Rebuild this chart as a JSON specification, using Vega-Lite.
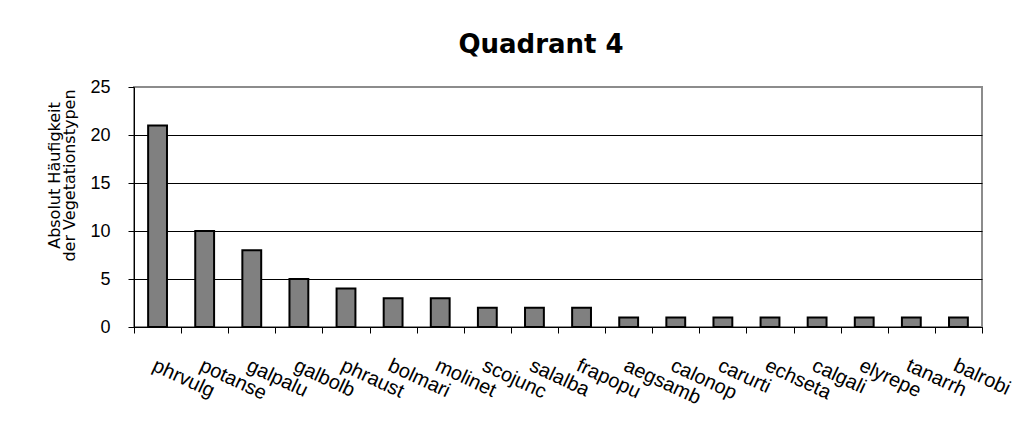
{
  "$schema": "https://vega.github.io/schema/vega-lite/v6.json",
  "width": 848,
  "height": 240,
  "autosize": {"type": "none"},
  "padding": {"left": 134, "top": 87, "right": 40, "bottom": 114},
  "background": "white",
  "title": {
    "text": "Quadrant 4",
    "font": "DejaVu Sans",
    "fontSize": 26,
    "fontWeight": "bold",
    "color": "black",
    "anchor": "middle",
    "frame": "group",
    "baseline": "alphabetic",
    "offset": 33,
    "dy": 34,
    "dx": -17
  },
  "data": {
    "values": [
      {"art": "phrvulg", "anzahl": 21},
      {"art": "potanse", "anzahl": 10},
      {"art": "galpalu", "anzahl": 8},
      {"art": "galbolb", "anzahl": 5},
      {"art": "phraust", "anzahl": 4},
      {"art": "bolmari", "anzahl": 3},
      {"art": "molinet", "anzahl": 3},
      {"art": "scojunc", "anzahl": 2},
      {"art": "salalba", "anzahl": 2},
      {"art": "frapopu", "anzahl": 2},
      {"art": "aegsamb", "anzahl": 1},
      {"art": "calonop", "anzahl": 1},
      {"art": "carurti", "anzahl": 1},
      {"art": "echseta", "anzahl": 1},
      {"art": "calgali", "anzahl": 1},
      {"art": "elyrepe", "anzahl": 1},
      {"art": "tanarrh", "anzahl": 1},
      {"art": "balrobi", "anzahl": 1}
    ]
  },
  "mark": {"type": "bar", "fill": "#808080", "stroke": "black", "strokeWidth": 2, "width": {"band": 0.4}},
  "encoding": {
    "x": {
      "field": "art",
      "type": "nominal",
      "sort": null,
      "scale": {"paddingInner": 0, "paddingOuter": 0},
      "axis": {
        "title": null,
        "grid": false,
        "tickBand": "extent",
        "tickSize": 6,
        "tickColor": "black",
        "domainColor": "black",
        "labelAngle": 25,
        "labelAlign": "left",
        "labelBaseline": "top",
        "labelPadding": 22,
        "labelFont": "Liberation Sans",
        "labelFontSize": 20,
        "labelColor": "black",
        "labelOverlap": false,
        "labelLimit": 0
      }
    },
    "y": {
      "field": "anzahl",
      "type": "quantitative",
      "scale": {"domain": [0, 25], "nice": false},
      "axis": {
        "title": ["Absolut Häufigkeit", "der Vegetationstypen"],
        "titleFont": "DejaVu Sans",
        "titleFontSize": 16,
        "titleFontWeight": "normal",
        "titleColor": "black",
        "titleX": -72,
        "titleY": 88,
        "titleLineHeight": 15,
        "values": [0, 5, 10, 15, 20, 25],
        "tickSize": 6,
        "tickColor": "black",
        "domainColor": "black",
        "labelPadding": 18,
        "labelFont": "Liberation Sans",
        "labelFontSize": 18,
        "labelColor": "black",
        "grid": true,
        "gridColor": {"condition": {"test": "datum.value === 25", "value": "#8c8c8c"}, "value": "black"},
        "gridOpacity": 1,
        "gridWidth": 1
      }
    }
  },
  "config": {
    "view": {"stroke": "#8c8c8c", "strokeWidth": 2}
  }
}
